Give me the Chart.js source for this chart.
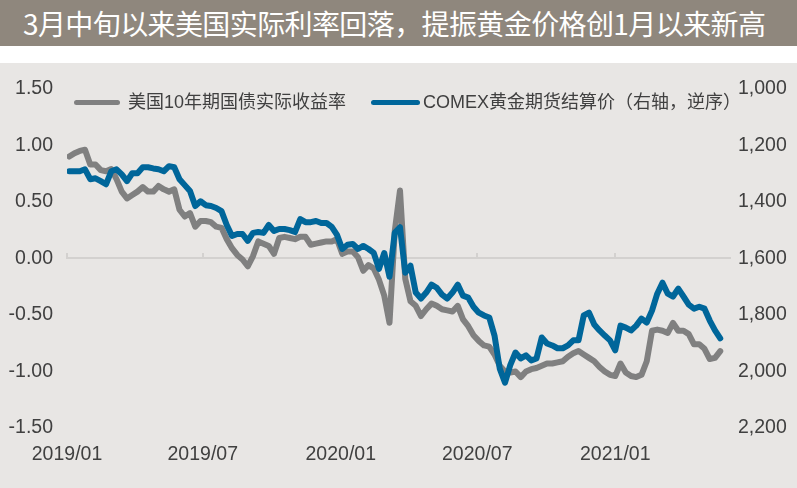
<!DOCTYPE html>
<html>
<head>
<meta charset="utf-8">
<script src="https://cdn.jsdelivr.net/npm/chart.js@4.4.0/dist/chart.umd.min.js"></script>
<style>
  html, body { margin: 0; padding: 0; background: #fff; }
  body {
    width: 797px; height: 488px; position: relative; overflow: hidden;
    font-family: "Liberation Sans", "Noto Sans CJK SC", sans-serif;
  }
  .banner {
    position: absolute; left: 0; top: 0; width: 797px; height: 46px;
    background: #8f877d; color: #fff; white-space: nowrap;
    font-family: "Noto Sans CJK SC", sans-serif; font-size: 28px; line-height: 46px;
    padding-left: 23px; box-sizing: border-box; letter-spacing: -0.6px;
  }
  .plot { position: absolute; left: 0; top: 63px; width: 797px; height: 425px; background: #e8e6e4; }
  .legend-line { position: absolute; height: 5px; border-radius: 3px; top: 100px; }
  .legend-text { position: absolute; top: 91px; font-size: 18px; line-height: 22px; color: #404040; white-space: nowrap; }
</style>
</head>
<body>
<div class="banner">3月中旬以来美国实际利率回落，提振黄金价格创1月以来新高</div>
<div class="plot"><canvas id="lineChart" width="797" height="425"></canvas></div>
<div class="legend-line" style="left:74px;width:46px;background:#808080"></div>
<div class="legend-text" style="left:128px">美国10年期国债实际收益率</div>
<div class="legend-line" style="left:371px;width:49px;background:#00669a"></div>
<div class="legend-text" style="left:423px">COMEX黄金期货结算价（右轴，逆序）</div>
<script>
// Weekly observations, first one on 2019-01-04 (day 3 counted from 2019-01-01)
const firstDay = 3;
const stepDays = 7;

// x-axis ticks: days since 2019-01-01
const xTickDays = [0, 181, 365, 547, 731];
const xTickLabels = ["2019/01", "2019/07", "2020/01", "2020/07", "2021/01"];

// US 10Y real yield, %
const realYield = [
  0.90, 0.93, 0.95, 0.96, 0.83, 0.83, 0.78, 0.77, 0.79, 0.70,
  0.59, 0.53, 0.56, 0.59, 0.63, 0.59, 0.59, 0.64, 0.61, 0.59,
  0.61, 0.43, 0.37, 0.40, 0.28, 0.33, 0.33, 0.32, 0.28, 0.27,
  0.17, 0.09, 0.03, -0.01, -0.07, 0.02, 0.15, 0.13, 0.11, 0.04,
  0.18, 0.19, 0.18, 0.17, 0.19, 0.19, 0.12, 0.13, 0.14, 0.15,
  0.15, 0.17, 0.04, 0.06, 0.06, 0.01, -0.11, -0.06, -0.09, -0.19,
  -0.33, -0.57, 0.24, 0.60, -0.18, -0.38, -0.42, -0.51, -0.45, -0.40,
  -0.42, -0.45, -0.46, -0.47, -0.42, -0.54, -0.60, -0.68, -0.73, -0.77,
  -0.78, -0.85, -0.95, -1.00, -1.01, -1.00, -1.05, -1.00, -0.98, -0.97,
  -0.95, -0.93, -0.93, -0.92, -0.91, -0.87, -0.84, -0.82, -0.85, -0.88,
  -0.91, -0.96, -1.00, -1.03, -1.04, -0.93, -1.01, -1.04, -1.05, -1.03,
  -0.91, -0.64, -0.63, -0.64, -0.66, -0.57, -0.64, -0.64, -0.67, -0.76,
  -0.76, -0.80, -0.89, -0.88, -0.82,
];

// COMEX gold settlement price, USD/oz (right axis, reversed)
const goldPrice = [
  1292, 1292, 1292, 1285, 1320, 1317, 1327, 1338, 1292, 1285,
  1303, 1327, 1299, 1299, 1278, 1278, 1282, 1285, 1292, 1274,
  1278, 1320, 1341, 1362, 1415, 1398, 1412, 1415, 1422, 1433,
  1482, 1521, 1514, 1514, 1538, 1510, 1507, 1510, 1482, 1503,
  1496, 1496, 1500, 1507, 1461, 1472, 1472, 1468, 1475, 1475,
  1489, 1517, 1567, 1552, 1549, 1567, 1556, 1567, 1581, 1637,
  1581, 1665, 1510, 1490, 1651, 1626, 1721, 1742, 1721, 1693,
  1704, 1728, 1742, 1721, 1693, 1732, 1739, 1771, 1792, 1802,
  1809, 1873, 1990, 2040, 1978, 1933, 1954, 1943, 1961, 1954,
  1880, 1901, 1908, 1918, 1918, 1908, 1890, 1890, 1802, 1792,
  1834, 1855, 1873, 1890, 1925, 1838, 1845, 1855, 1838, 1813,
  1827, 1785, 1725, 1686, 1725, 1735, 1707, 1735, 1764, 1778,
  1771, 1778, 1820, 1855, 1883,
];

const xMax = 884;
const axisColor = "#404040";
const tickFont = { family: "Liberation Sans", size: 19.5 };

function toPoints(values) {
  return values.map((v, i) => ({ x: firstDay + i * stepDays, y: v }));
}

function setDateTicks(scale) {
  scale.ticks = xTickDays.map((d) => ({ value: d }));
}

const ctx = document.getElementById("lineChart").getContext("2d");

new Chart(ctx, {
  type: "line",
  data: {
    datasets: [
      {
        label: "美国10年期国债实际收益率",
        data: toPoints(realYield),
        yAxisID: "y",
        borderColor: "#808080",
        borderWidth: 6,
        pointRadius: 0,
        borderJoinStyle: "round",
        borderCapStyle: "round",
        order: 2,
      },
      {
        label: "COMEX黄金期货结算价（右轴，逆序）",
        data: toPoints(goldPrice),
        yAxisID: "y2",
        borderColor: "#00669a",
        borderWidth: 6,
        pointRadius: 0,
        borderJoinStyle: "round",
        borderCapStyle: "round",
        order: 1,
      },
    ],
  },
  options: {
    responsive: false,
    animation: false,
    layout: { padding: { top: 24, left: 0, right: 0, bottom: 0 } },
    plugins: {
      legend: { display: false },
      tooltip: { enabled: false },
    },
    scales: {
      x: {
        type: "linear",
        min: 0,
        max: xMax,
        afterBuildTicks: setDateTicks,
        afterFit: (scale) => { scale.height = 60; },
        grid: { display: false, drawTicks: false },
        border: { display: false },
        ticks: {
          autoSkip: false,
          maxRotation: 0,
          padding: 15,
          color: axisColor,
          font: tickFont,
          callback: (v, i) => xTickLabels[i],
        },
      },
      x0: {
        type: "linear",
        min: 0,
        max: xMax,
        position: { y: 0 },
        afterBuildTicks: setDateTicks,
        grid: {
          drawOnChartArea: false,
          drawTicks: true,
          tickLength: -6,
          color: "#d3d1cf",
          lineWidth: 2,
        },
        border: { color: "#d3d1cf", width: 2 },
        ticks: { display: false },
      },
      y: {
        position: "left",
        min: -1.5,
        max: 1.5,
        afterFit: (scale) => { scale.width = 67; },
        grid: { display: false, drawTicks: false },
        border: { display: false },
        ticks: {
          stepSize: 0.5,
          padding: 14,
          color: axisColor,
          font: tickFont,
          callback: (v) => v.toFixed(2),
        },
      },
      y2: {
        position: "right",
        min: 1000,
        max: 2200,
        reverse: true,
        afterFit: (scale) => { scale.width = 67; },
        grid: { display: false, drawTicks: false },
        border: { display: false },
        ticks: {
          stepSize: 200,
          padding: 8,
          color: axisColor,
          font: tickFont,
          callback: (v) => v.toLocaleString("en-US"),
        },
      },
    },
  },
});
</script>
</body>
</html>
